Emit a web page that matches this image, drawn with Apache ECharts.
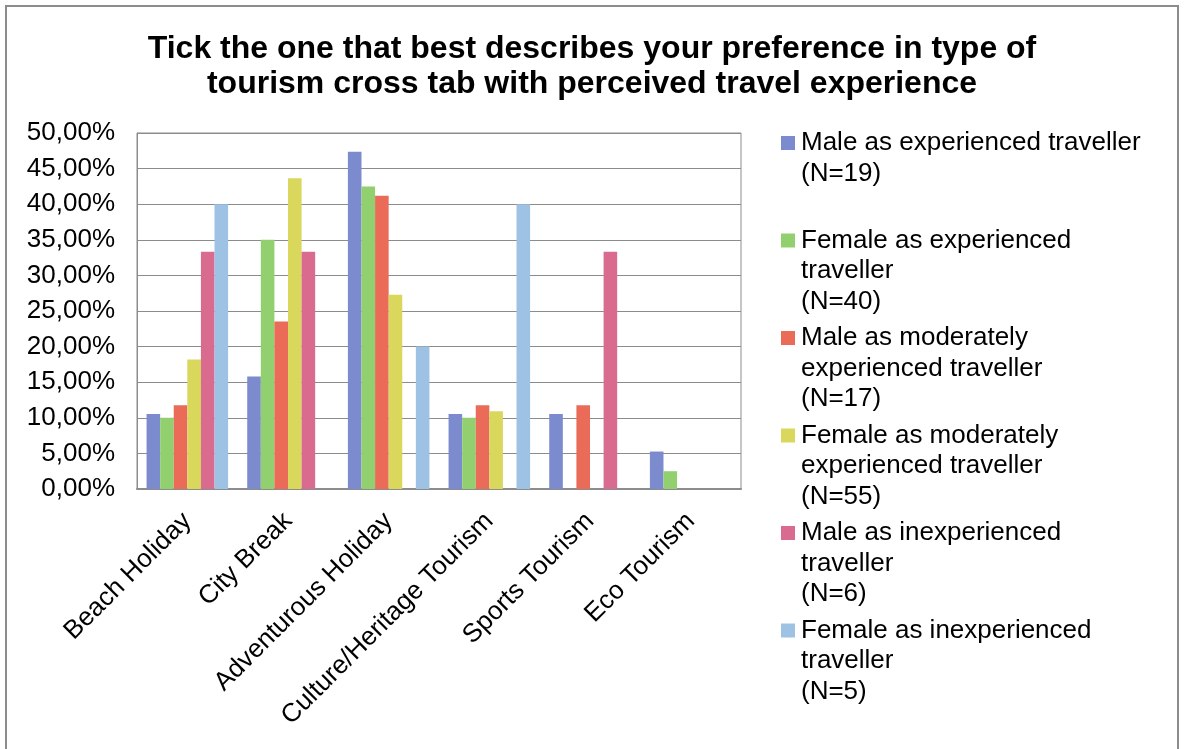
<!DOCTYPE html>
<html>
<head>
<meta charset="utf-8">
<script src="https://cdn.jsdelivr.net/npm/echarts@6/dist/echarts.min.js"></script>
<style>
  html, body { margin: 0; padding: 0; background: #fff; }
  #main { width: 1184px; height: 749px; }
</style>
</head>
<body>
<div id="main"></div>
<script>
var categories = ['Beach Holiday', 'City Break', 'Adventurous Holiday', 'Culture/Heritage Tourism', 'Sports Tourism', 'Eco Tourism'];

// legend text, wrapped as in the picture
var seriesNames = [
    'Male as experienced traveller\n(N=19)\n',
    'Female as experienced\ntraveller\n(N=40)',
    'Male as moderately\nexperienced traveller\n(N=17)',
    'Female as moderately\nexperienced traveller\n(N=55)',
    'Male as inexperienced\ntraveller\n(N=6)',
    'Female as inexperienced\ntraveller\n(N=5)'
];

// percentages
var maleExp = [10.53, 15.79, 47.37, 10.53, 10.53, 5.26];
var femaleExp = [10.00, 35.00, 42.50, 10.00, 0, 2.50];
var maleMod = [11.76, 23.53, 41.18, 11.76, 11.76, 0];
var femaleMod = [18.18, 43.64, 27.27, 10.91, 0, 0];
var maleInexp = [33.33, 33.33, 0, 0, 33.33, 0];
var femaleInexp = [40.00, 0, 20.00, 40.00, 0, 0];

var yTicks = { min: 0, max: 50, interval: 5 };

var colors = ['#7B8BCE', '#92D06F', '#EA6B58', '#D9D75C', '#D96B8E', '#9DC2E3'];
var allData = [maleExp, femaleExp, maleMod, femaleMod, maleInexp, femaleInexp];

var chartDom = document.getElementById('main');
var myChart = echarts.init(chartDom);
var option;

var font = 'Liberation Sans, Arial, sans-serif';

var rich = {
    t: { fontSize: 26, fontFamily: font, color: '#000', lineHeight: 30.5 },
    g: { width: 6, lineHeight: 30.5 },
    s: { width: 20, lineHeight: 30.5 }
};
colors.forEach(function (c, i) {
    rich['k' + i] = { width: 14, height: 14, backgroundColor: c, lineHeight: 30.5 };
});

option = {
    backgroundColor: '#fff',
    color: colors,
    title: {
        text: 'Tick the one that best describes your preference in type of\ntourism cross tab with perceived travel experience',
        left: 'center',
        top: 27,
        textStyle: {
            fontFamily: font,
            fontSize: 32,
            fontWeight: 'bold',
            color: '#000',
            lineHeight: 35
        }
    },
    graphic: {
        elements: [{
            type: 'rect',
            shape: { x: 6, y: 6, width: 1172, height: 770 },
            style: { fill: 'none', stroke: '#8c8c8c', lineWidth: 2 },
            silent: true
        }]
    },
    legend: {
        orient: 'vertical',
        left: 776,
        top: 130,
        padding: 0,
        itemGap: 10.5,
        itemWidth: 0,
        itemHeight: 0,
        icon: 'rect',
        data: seriesNames,
        formatter: function (name) {
            var i = seriesNames.indexOf(name);
            var lines = name.split('\n');
            return lines.map(function (l, j) {
                var head = j === 0 ? '{k' + i + '|}{g|}' : '{s|}';
                return head + '{t|' + (l || ' ') + '}';
            }).join('\n');
        },
        textStyle: { rich: rich }
    },
    grid: {
        left: 137,
        right: 443,
        top: 133,
        bottom: 260,
        show: true,
        borderColor: '#8c8c8c',
        borderWidth: 1
    },
    xAxis: {
        type: 'category',
        data: categories,
        axisLine: { lineStyle: { color: '#8c8c8c', width: 2 } },
        axisTick: { show: false },
        axisLabel: {
            interval: 0,
            rotate: 45,
            margin: 28,
            fontSize: 26,
            fontFamily: font,
            color: '#000'
        }
    },
    yAxis: {
        type: 'value',
        min: yTicks.min,
        max: yTicks.max,
        interval: yTicks.interval,
        axisLine: { show: true, lineStyle: { color: '#8c8c8c' } },
        axisTick: { show: false },
        splitLine: { lineStyle: { color: '#8c8c8c', width: 1 } },
        axisLabel: {
            margin: 22,
            fontSize: 26,
            fontFamily: font,
            color: '#000',
            formatter: function (v) {
                return v.toFixed(2).replace('.', ',') + '%';
            }
        }
    },
    series: allData.map(function (d, i) {
        return {
            name: seriesNames[i],
            type: 'bar',
            data: d,
            barGap: '0%',
            barCategoryGap: '19%',
            itemStyle: { color: colors[i] }
        };
    })
};

option && myChart.setOption(option);
</script>
</body>
</html>
